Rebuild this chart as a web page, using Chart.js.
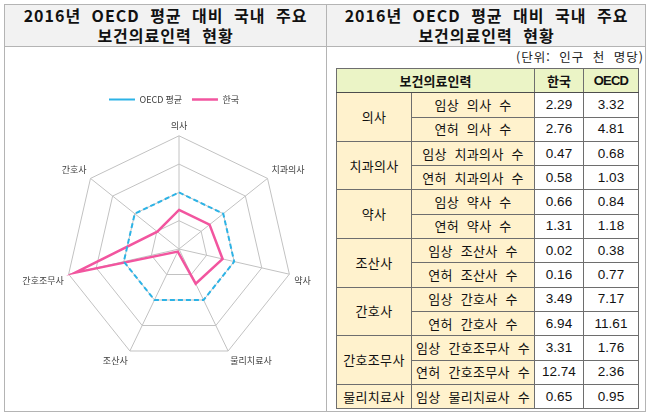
<!DOCTYPE html>
<html lang="ko">
<head>
<meta charset="utf-8">
<script src="https://cdn.jsdelivr.net/npm/chart.js@4.4.1/dist/chart.umd.min.js"></script>
<style>
  body { margin: 0; width: 650px; height: 419px; background: #fff; position: relative; overflow: hidden;
         font-family: "Noto Sans CJK KR", "Noto Sans", sans-serif; color: #111; }
  .frame { position: absolute; left: 4px; top: 4px; width: 642px; height: 408px; border: 1px solid #b4b4b4; box-sizing: border-box; }
  .band { position: absolute; left: 4px; top: 4px; width: 642px; height: 43px; background: #f2f2f2; border-bottom: 1px solid #b4b4b4; box-sizing: border-box; }
  .divider { position: absolute; left: 326px; top: 4px; width: 1px; height: 408px; background: #b4b4b4; }
  .title { position: absolute; top: 5px; font-weight: bold; font-size: 16px; line-height: 20px; text-align: center;
           letter-spacing: 1px; word-spacing: 5px; color: #111; }
  #chartTitle { left: 5px; width: 321px; }
  #tableTitle { left: 327px; width: 319px; }
  #unit { position: absolute; right: 6px; top: 48px; font-size: 12.5px; line-height: 18px; letter-spacing: 1px; word-spacing: 4px; color: #222; }
  #radar { position: absolute; left: 13px; top: 47px; }
  table { position: absolute; left: 336px; top: 68px; border-collapse: collapse; border: 1px solid #4d4d4d; }
  td, th { border: 1px solid #6e6e6e; padding: 0; height: 23.3px; text-align: center; font-size: 13px; line-height: 14px; }
  th { background: #ebf4c6; font-weight: bold; border-bottom: 1px solid #4d4d4d; }
  td.grp, td.item { background: #fff2cd; word-spacing: 4px; letter-spacing: 0.3px; }
  td.num { font-family: "Liberation Sans", Arial, sans-serif; font-size: 13.5px; }
  th.num { font-family: "Liberation Sans", Arial, sans-serif; letter-spacing: -0.8px; }
</style>
</head>
<body>
<div class="band"></div>
<div class="frame"></div>
<div class="divider"></div>
<div class="title" id="chartTitle">2016년 OECD 평균 대비 국내 주요<br>보건의료인력 현황</div>
<div class="title" id="tableTitle">2016년 OECD 평균 대비 국내 주요<br>보건의료인력 현황</div>
<div id="unit">(단위: 인구 천 명당)</div>
<canvas id="radar" width="322" height="365"></canvas>
<table id="staffTable">
  <colgroup><col style="width:75px"><col style="width:123px"><col style="width:49px"><col style="width:55px"></colgroup>
  <thead><tr><th colspan="2">보건의료인력</th><th>한국</th><th class="num">OECD</th></tr></thead>
  <tbody></tbody>
</table>
<script>
// radar: OECD average = 100, Korea as index against it
const categories = ['의사', '치과의사', '약사', '물리치료사', '조산사', '간호조무사', '간호사'];
const oecdIndex = [100, 100, 100, 100, 100, 100, 100];
const koreaIndex = [69, 69, 79, 68, 5, 188, 49];

// table (per 1,000 population)
const tableGroups = ['의사', '치과의사', '약사', '조산사', '간호사', '간호조무사', '물리치료사'];
const groupRows = [2, 2, 2, 2, 2, 2, 1];
const tableItems = ['임상 의사 수', '연허 의사 수', '임상 치과의사 수', '연허 치과의사 수',
  '임상 약사 수', '연허 약사 수', '임상 조산사 수', '연허 조산사 수',
  '임상 간호사 수', '연허 간호사 수', '임상 간호조무사 수', '연허 간호조무사 수', '임상 물리치료사 수'];
const koreaValues = [2.29, 2.76, 0.47, 0.58, 0.66, 1.31, 0.02, 0.16, 3.49, 6.94, 3.31, 12.74, 0.65];
const oecdValues = [3.32, 4.81, 0.68, 1.03, 0.84, 1.18, 0.38, 0.77, 7.17, 11.61, 1.76, 2.36, 0.95];

const tbody = document.querySelector('#staffTable tbody');
let row = 0;
tableGroups.forEach((grp, g) => {
  for (let k = 0; k < groupRows[g]; k++) {
    const tr = document.createElement('tr');
    if (k === 0) {
      const td = document.createElement('td');
      td.className = 'grp';
      td.rowSpan = groupRows[g];
      td.textContent = grp;
      tr.appendChild(td);
    }
    const item = document.createElement('td');
    item.className = 'item';
    item.textContent = tableItems[row];
    tr.appendChild(item);
    [koreaValues[row], oecdValues[row]].forEach(v => {
      const td = document.createElement('td');
      td.className = 'num';
      td.textContent = v.toFixed(2);
      tr.appendChild(td);
    });
    tbody.appendChild(tr);
    row++;
  }
});

const ctx = document.getElementById('radar').getContext('2d');
new Chart(ctx, {
  type: 'radar',
  data: {
    labels: categories,
    datasets: [{
      label: 'OECD 평균',
      data: oecdIndex,
      borderColor: '#2cb3e6',
      borderWidth: 2,
      borderDash: [5, 3],
      pointRadius: 0,
      fill: false
    }, {
      label: '한국',
      data: koreaIndex,
      borderColor: '#f2559f',
      borderWidth: 2.5,
      pointRadius: 0,
      fill: false
    }]
  },
  options: {
    responsive: false,
    animation: false,
    layout: { padding: { top: 38, bottom: 40 } },
    plugins: {
      legend: {
        position: 'top',
        labels: {
          usePointStyle: true,
          pointStyle: 'line',
          pointStyleWidth: 26,
          padding: 10,
          color: '#404040',
          font: { family: 'Noto Sans CJK KR', size: 9 }
        }
      },
      tooltip: { enabled: false }
    },
    scales: {
      r: {
        min: 0,
        max: 200,
        ticks: { display: false, stepSize: 50 },
        grid: { color: '#c2c2c2', lineWidth: 1 },
        angleLines: { color: '#c2c2c2', lineWidth: 1 },
        pointLabels: {
          color: '#404040',
          padding: 5,
          font: { family: 'Noto Sans CJK KR', size: 9 }
        }
      }
    }
  }
});
</script>
</body>
</html>
